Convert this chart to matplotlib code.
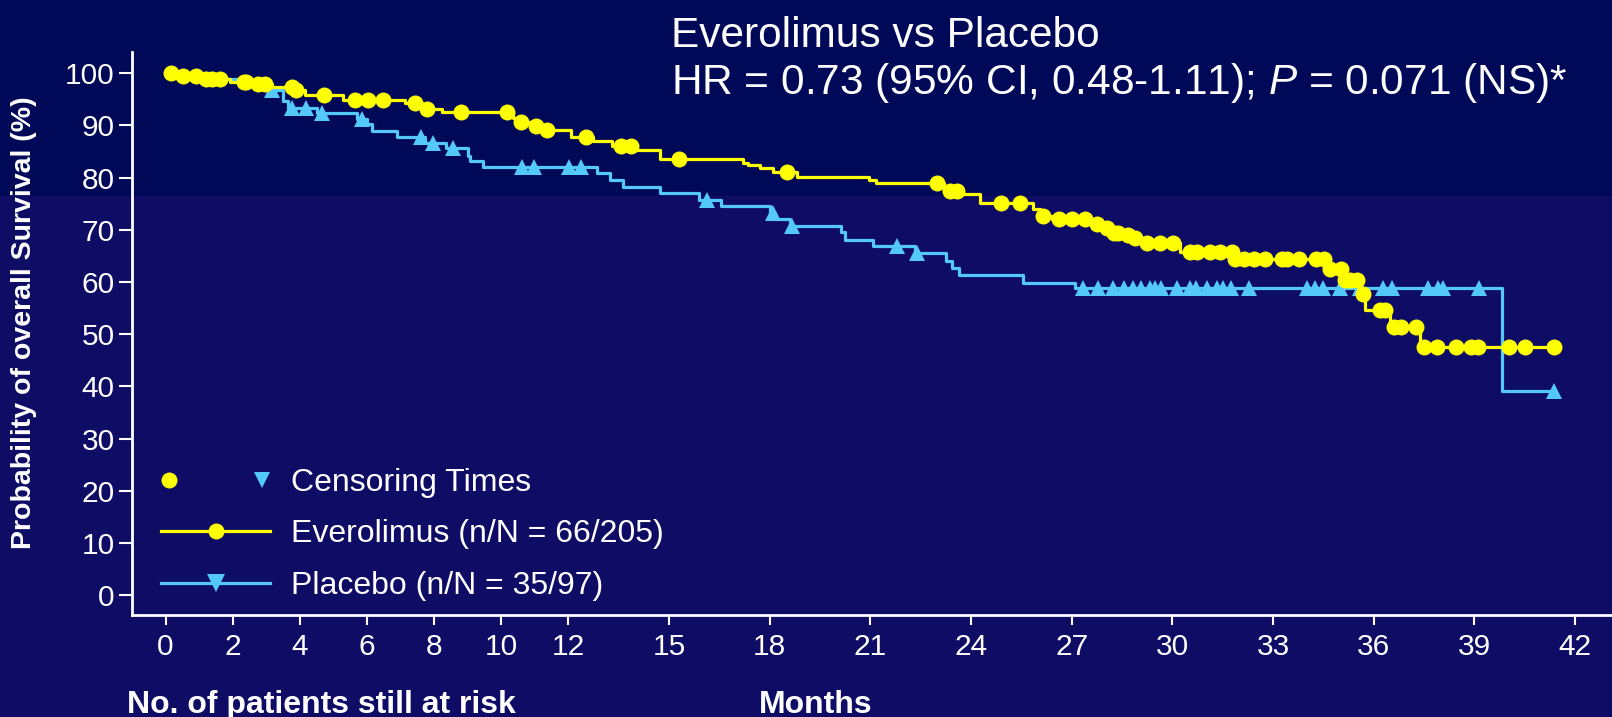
import numpy as np
import matplotlib.pyplot as plt
from matplotlib.lines import Line2D
from matplotlib.legend_handler import HandlerTuple
from matplotlib.patches import Rectangle

plt.rcParams['font.family'] = ['Liberation Sans', 'DejaVu Sans']
plt.rcParams['mathtext.fontset'] = 'custom'
plt.rcParams['mathtext.rm'] = 'Liberation Sans'
plt.rcParams['mathtext.it'] = 'Liberation Sans:italic'

# Kaplan-Meier steps: time (months) of each drop and survival (%) after it
evero_times = [0, 0.35, 1.05, 1.92, 2.6, 3.16, 3.83, 4.15, 5.29, 7.13,
               7.63, 8.23, 10.35, 10.5, 10.9, 11.2, 12.07, 12.75, 13.3, 13.95,
               14.73, 17.22, 17.37, 17.7, 18.11, 18.81, 20.97, 21.17, 23.2, 23.77,
               24.27, 25.86, 26.05, 26.4, 27.6, 28.0, 28.2, 28.6, 28.8, 29.1,
               30.23, 31.82, 34.62, 35.1, 35.6, 35.75, 36.49, 37.39]
evero_surv = [100, 99.5, 99.0, 98.4, 97.9, 97.4, 96.8, 95.9, 94.9, 94.3,
              93.2, 92.5, 91.5, 90.6, 89.9, 89.1, 87.7, 87.0, 86.0, 85.3,
              83.6, 82.9, 82.4, 81.8, 81.1, 80.2, 79.6, 79.0, 77.4, 76.8,
              75.1, 73.9, 72.7, 72.1, 71.2, 70.4, 69.4, 69.0, 68.4, 67.4,
              65.7, 64.5, 62.4, 60.3, 57.7, 54.7, 51.4, 47.6]
evero_censor = [0.16, 0.53, 0.92, 1.2, 1.37, 1.62, 2.33, 2.41, 2.74, 2.96,
                3.77, 3.9, 4.72, 5.64, 6.04, 6.49, 7.43, 7.8, 8.79, 10.18,
                10.6, 11.04, 11.37, 12.53, 13.56, 13.86, 15.3, 18.53, 22.98, 23.36,
                23.58, 24.9, 25.46, 26.14, 26.63, 27.0, 27.4, 27.75, 28.05, 28.25,
                28.39, 28.69, 28.89, 29.24, 29.64, 30.03, 30.53, 30.73, 31.13, 31.43,
                31.77, 31.87, 32.12, 32.42, 32.77, 33.26, 33.41, 33.76, 34.28, 34.52,
                34.7, 35.03, 35.15, 35.3, 35.5, 35.67, 36.19, 36.34, 36.59, 36.81,
                37.26, 37.49, 37.9, 38.45, 38.9, 39.1, 40.04, 40.5, 41.36]

placebo_times = [0, 1.4, 2.5, 3.0, 3.5, 3.65, 4.5, 5.71, 5.99, 6.14,
                 6.91, 7.73, 8.37, 9.0, 9.07, 9.47, 12.85, 13.24, 13.64, 14.73,
                 15.9, 16.55, 18.0, 18.16, 18.6, 20.13, 20.25, 21.07, 22.33, 23.25,
                 23.43, 23.63, 25.56, 27.1, 39.82]
placebo_surv = [100, 98.9, 97.9, 96.8, 94.7, 93.3, 92.3, 91.3, 90.2, 88.9,
                87.7, 86.7, 85.6, 84.1, 83.1, 82.1, 80.8, 79.5, 78.3, 77.0,
                75.8, 74.6, 73.3, 72.1, 70.8, 69.5, 68.0, 66.9, 65.5, 64.1,
                62.7, 61.4, 59.9, 58.9, 39.2]
placebo_censor = [3.16, 3.78, 4.18, 4.65, 5.86, 7.61, 7.96, 8.57, 10.63, 10.99,
                  12.03, 12.37, 16.14, 18.11, 18.66, 21.79, 22.38, 27.33, 27.77, 28.23,
                  28.56, 28.84, 29.06, 29.32, 29.49, 29.67, 30.13, 30.53, 30.7, 31.03,
                  31.33, 31.51, 31.75, 32.27, 34.0, 34.26, 34.5, 35.0, 35.6, 36.29,
                  36.54, 37.63, 37.93, 38.06, 39.14, 41.38]

x_ticks = [0, 2, 4, 6, 8, 10, 12, 15, 18, 21, 24, 27, 30, 33, 36, 39, 42]
y_ticks = list(range(0, 101, 10))

YELLOW = '#ffff00'
BLUE = '#55c8fa'
TOP_BG = '#000958'
BOTTOM_BG = '#0f0c66'


def step_value(times, surv, t):
    idx = np.searchsorted(times, t, side='right') - 1
    return np.asarray(surv)[idx]


fig = plt.figure(figsize=(16.12, 7.17), dpi=100)
fig.patch.set_facecolor(BOTTOM_BG)
fig.add_artist(Rectangle((0, 1 - 196 / 717), 1, 196 / 717, transform=fig.transFigure,
                         facecolor=TOP_BG, edgecolor='none', zorder=-10))

ax = fig.add_axes([132 / 1612, 102 / 717, 1480 / 1612, 563.3 / 717])
ax.set_facecolor('none')

# placebo curve
pt = placebo_times + [placebo_censor[-1]]
ps = placebo_surv + [placebo_surv[-1]]
ax.step(pt, ps, where='post', color=BLUE, lw=2.3, zorder=2)
ax.plot(placebo_censor, step_value(placebo_times, placebo_surv, placebo_censor),
        ls='none', marker='^', color=BLUE, ms=11.5, mew=0, zorder=3)

# everolimus curve
et = evero_times + [evero_censor[-1]]
es = evero_surv + [evero_surv[-1]]
ax.step(et, es, where='post', color=YELLOW, lw=2.3, zorder=4)
ax.plot(evero_censor, step_value(evero_times, evero_surv, evero_censor),
        ls='none', marker='o', color=YELLOW, ms=11.5, mew=0, zorder=5)

ax.set_xlim(-1.0, 43.1)
ax.set_ylim(-3.83, 104.14)
ax.set_xticks(x_ticks)
ax.set_yticks(y_ticks)
for side in ['top', 'right']:
    ax.spines[side].set_visible(False)
for side in ['left', 'bottom']:
    ax.spines[side].set_color('white')
    ax.spines[side].set_linewidth(2)
ax.tick_params(axis='both', colors='white', labelsize=21.5, width=1.5)
ax.tick_params(axis='y', length=9.5, pad=3)
ax.tick_params(axis='x', length=7, pad=6)

cens_handle = (Line2D([], [], ls='none', marker='o', color=YELLOW, ms=11.5, mew=0),
               Line2D([], [], ls='none', marker='v', color=BLUE, ms=11.5, mew=0))
evero_handle = Line2D([], [], color=YELLOW, lw=2.3, marker='o', ms=11.5, mew=0)
placebo_handle = Line2D([], [], color=BLUE, lw=2.3, marker='v', ms=12.5, mew=0)
leg = ax.legend([cens_handle, evero_handle, placebo_handle],
                ['Censoring Times', 'Everolimus (n/N = 66/205)', 'Placebo (n/N = 35/97)'],
                handler_map={tuple: HandlerTuple(ndivide=2, pad=2.4)},
                loc='upper left', bbox_to_anchor=(161 / 1612, 1 - 468 / 717),
                bbox_transform=fig.transFigure, frameon=False, fontsize=23,
                handlelength=3.42, handletextpad=0.66, labelspacing=0.67,
                borderpad=0, borderaxespad=0, numpoints=1)
for t in leg.get_texts():
    t.set_color('white')

fig.text(671 / 1612, 1 - 47 / 717, 'Everolimus vs Placebo', fontsize=30.5,
         color='white', va='baseline')
fig.text(671 / 1612, 1 - 94 / 717,
         r'HR = 0.73 (95% CI, 0.48-1.11); $\mathit{P}$ = 0.071 (NS)*',
         fontsize=30.5, color='white', va='baseline')
fig.text(24 / 1612, 1 - 323 / 717, 'Probability of overall Survival (%)',
         rotation=90, fontsize=20.5, fontweight='bold', color='white',
         ha='center', va='center')
fig.text(127 / 1612, 1 - 713 / 717, 'No. of patients still at risk', fontsize=23,
         fontweight='bold', color='white', va='baseline')
fig.text(759 / 1612, 1 - 713 / 717, 'Months', fontsize=23,
         fontweight='bold', color='white', va='baseline')

fig.savefig('out.png', dpi=100, facecolor=fig.get_facecolor())
